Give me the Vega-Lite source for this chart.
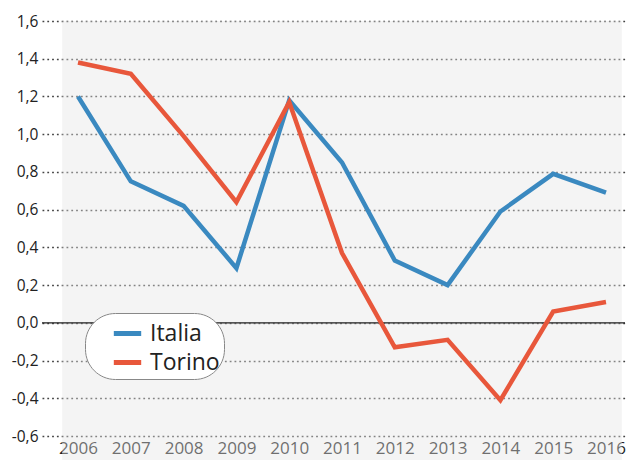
{
  "$schema": "https://vega.github.io/schema/vega-lite/v6.json",
  "width": 583,
  "height": 415,
  "autosize": {"type": "none"},
  "padding": {"left": 42, "top": 21, "right": 8, "bottom": 24},
  "background": "white",
  "config": {
    "view": {"stroke": null},
    "font": "Open Sans",
    "axisX": {"grid": false, "domain": false, "ticks": false, "labelFontSize": 17, "labelColor": "#222", "labelPadding": 4, "labelFlush": false, "labelOverlap": false, "title": null},
    "axisY": {"domain": false, "ticks": false, "labelPadding": 4, "labelOverlap": false, "labelFlush": false, "labelFontSize": 15.5, "labelColor": "#222", "grid": true, "gridColor": "#444", "gridDash": [1.8, 3], "gridWidth": 1.5, "title": null}
  },
  "datasets": {
    "series": [
      {"anno": 2006, "valore": 1.20, "serie": "Italia"},
      {"anno": 2007, "valore": 0.75, "serie": "Italia"},
      {"anno": 2008, "valore": 0.62, "serie": "Italia"},
      {"anno": 2009, "valore": 0.29, "serie": "Italia"},
      {"anno": 2010, "valore": 1.18, "serie": "Italia"},
      {"anno": 2011, "valore": 0.85, "serie": "Italia"},
      {"anno": 2012, "valore": 0.33, "serie": "Italia"},
      {"anno": 2013, "valore": 0.20, "serie": "Italia"},
      {"anno": 2014, "valore": 0.59, "serie": "Italia"},
      {"anno": 2015, "valore": 0.79, "serie": "Italia"},
      {"anno": 2016, "valore": 0.69, "serie": "Italia"},
      {"anno": 2006, "valore": 1.38, "serie": "Torino"},
      {"anno": 2007, "valore": 1.32, "serie": "Torino"},
      {"anno": 2008, "valore": 0.99, "serie": "Torino"},
      {"anno": 2009, "valore": 0.64, "serie": "Torino"},
      {"anno": 2010, "valore": 1.17, "serie": "Torino"},
      {"anno": 2011, "valore": 0.37, "serie": "Torino"},
      {"anno": 2012, "valore": -0.13, "serie": "Torino"},
      {"anno": 2013, "valore": -0.09, "serie": "Torino"},
      {"anno": 2014, "valore": -0.41, "serie": "Torino"},
      {"anno": 2015, "valore": 0.06, "serie": "Torino"},
      {"anno": 2016, "valore": 0.11, "serie": "Torino"}
    ],
    "sfondo": [
      {"x1": 2005.7, "x2": 2016.3, "y1": -0.75, "y2": 1.6}
    ],
    "zero": [
      {"y": 0}
    ]
  },
  "layer": [
    {
      "data": {"name": "sfondo"},
      "mark": {"type": "rect", "fill": "#e4e4e4", "opacity": 0.4, "clip": false},
      "encoding": {
        "x": {"field": "x1", "type": "quantitative",
          "scale": {"domain": [2005.318, 2016.36], "nice": false, "zero": false},
          "axis": {"values": [2006, 2007, 2008, 2009, 2010, 2011, 2012, 2013, 2014, 2015, 2016], "format": "d"}},
        "x2": {"field": "x2"},
        "y": {"field": "y1", "type": "quantitative",
          "scale": {"domain": [-0.6, 1.6], "nice": false},
          "axis": {"values": [-0.6, -0.4, -0.2, 0, 0.2, 0.4, 0.6, 0.8, 1.0, 1.2, 1.4, 1.6],
            "labelExpr": "(datum.value < 0 ? '-' : '') + replace(format(abs(datum.value), '.1f'), '.', ',')"}},
        "y2": {"field": "y2"}
      }
    },
    {
      "data": {"name": "zero"},
      "mark": {"type": "rule", "color": "#222", "strokeWidth": 1.3},
      "encoding": {"y": {"field": "y", "type": "quantitative",
        "axis": {"values": [-0.6, -0.4, -0.2, 0, 0.2, 0.4, 0.6, 0.8, 1.0, 1.2, 1.4, 1.6],
          "labelExpr": "(datum.value < 0 ? '-' : '') + replace(format(abs(datum.value), '.1f'), '.', ',')"}}}
    },
    {
      "data": {"name": "series"},
      "mark": {"type": "line", "strokeWidth": 4.5, "strokeCap": "butt", "strokeJoin": "miter"},
      "encoding": {
        "x": {
          "field": "anno", "type": "quantitative",
          "scale": {"domain": [2005.318, 2016.36], "nice": false, "zero": false},
          "axis": {"values": [2006, 2007, 2008, 2009, 2010, 2011, 2012, 2013, 2014, 2015, 2016], "format": "d"}
        },
        "y": {
          "field": "valore", "type": "quantitative",
          "scale": {"domain": [-0.6, 1.6], "nice": false},
          "axis": {"values": [-0.6, -0.4, -0.2, 0, 0.2, 0.4, 0.6, 0.8, 1.0, 1.2, 1.4, 1.6],
            "labelExpr": "(datum.value < 0 ? '-' : '') + replace(format(abs(datum.value), '.1f'), '.', ',')"}
        },
        "color": {
          "field": "serie", "type": "nominal",
          "scale": {"domain": ["Italia", "Torino"], "range": ["#3a89c0", "#e8573b"]},
          "legend": {
            "title": null, "orient": "none", "legendX": 43, "legendY": 292,
            "direction": "vertical",
            "fillColor": "white", "strokeColor": "#888", "cornerRadius": 30,
            "padding": 4, "offset": 0,
            "symbolType": "stroke", "symbolStrokeWidth": 5, "symbolSize": 750, "symbolOffset": 22,
            "labelFontSize": 23, "labelColor": "#222", "labelOffset": 6,
            "labelExpr": "datum.label + '\u00a0\u00a0\u00a0\u00a0\u00a0'",
            "rowPadding": 0
          }
        }
      }
    }
  ]
}
